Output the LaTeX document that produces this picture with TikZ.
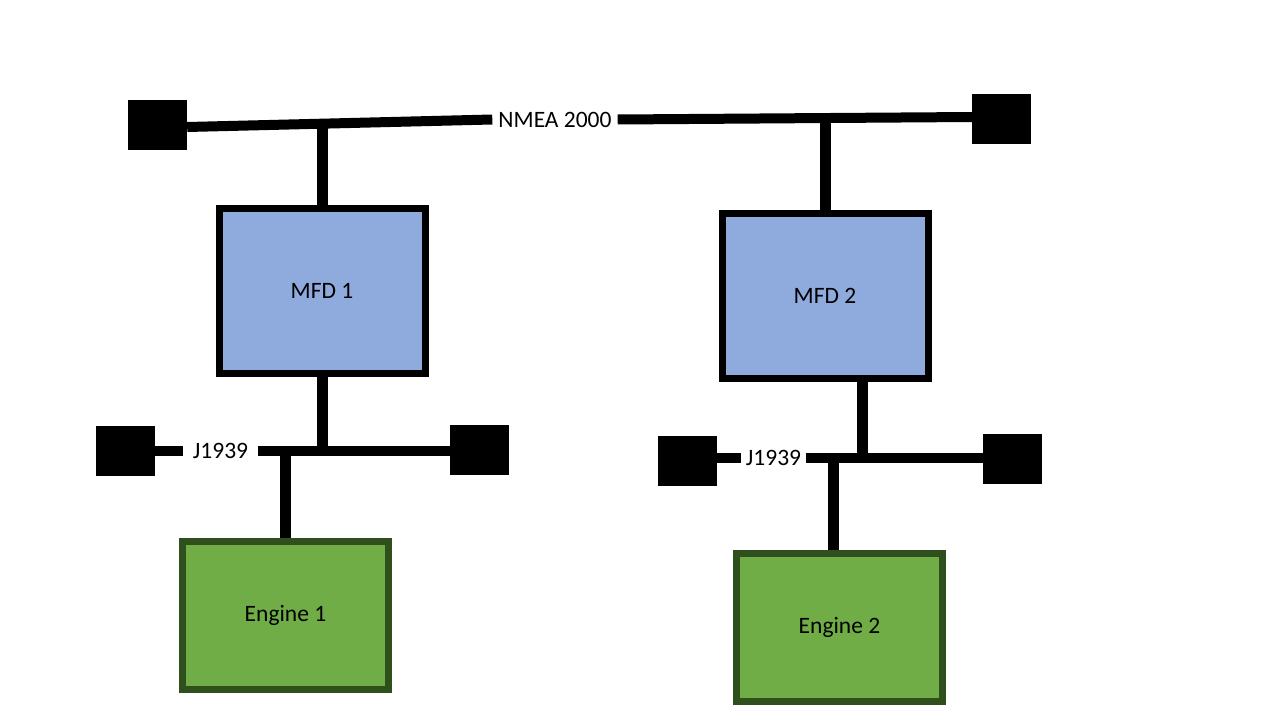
\documentclass[tikz,border=0pt]{standalone}
\usepackage{fontspec}
\setmainfont{Carlito}
\definecolor{mfdblue}{HTML}{8FAADC}
\definecolor{enggreen}{HTML}{70AD47}
\definecolor{engdark}{HTML}{2F4F1C}

\begin{document}
\begin{tikzpicture}
  [x=1pt,y=-1pt,
   every node/.style={font=\fontsize{23.5}{28}\selectfont},
   term/.style={fill=black,inner sep=0,minimum width=59pt,minimum height=50pt},
   mfd/.style={draw=black,line width=7pt,fill=mfdblue,minimum width=206pt,minimum height=165pt},
   eng/.style={draw=engdark,line width=7pt,fill=enggreen,minimum width=206pt,minimum height=148pt},
   bus/.style={line width=10pt},
   drop/.style={line width=11pt}]
  \useasboundingbox (0,0) rectangle (1280,720);

  % terminators
  \node[term] (tl)  at (157.5,125) {};
  \node[term] (tr)  at (1001.5,119) {};
  \node[term] (jl1) at (125.5,451) {};
  \node[term] (jr1) at (479.5,450) {};
  \node[term] (jl2) at (687.5,460.5) {};
  \node[term] (jr2) at (1012.5,458.5) {};

  % bus labels
  \node[inner xsep=6pt] (nmea) at (555,119.5) {NMEA 2000};
  \node[inner xsep=10pt] (jone) at (220.5,451) {J1939};
  \node[inner xsep=5pt] (jtwo) at (773.5,458) {J1939};

  % devices
  \node[mfd] (mfdone) at (322,291)   {MFD 1};
  \node[mfd] (mfdtwo) at (825,295.5) {MFD 2};
  \node[eng] (engone) at (285.5,615) {Engine 1};
  \node[eng] (engtwo) at (839.5,627) {Engine 2};

  \draw[bus] ([yshift=-2pt]tl.east) -- (nmea.west);
  \draw[bus] (nmea.east) -- ([yshift=2pt]tr.west);
  \foreach \from/\to in {jl1.east/jone.west,jr1.west/jone.east,
                         jl2.east/jtwo.west,jr2.west/jtwo.east}
    \draw[bus] (\from |- \to) -- (\to);

  \draw[drop] (mfdone.north) -- (mfdone.north |- tl);
  \draw[drop] (mfdtwo.north) -- (mfdtwo.north |- nmea);
  \draw[drop] (mfdone.south) -- (mfdone.south |- jone);
  \draw[drop] ([xshift=37pt]mfdtwo.south) -- ([xshift=37pt]mfdtwo.south |- jtwo);
  \draw[drop] (engone.north) -- (engone.north |- jone);
  \draw[drop] ([xshift=-6pt]engtwo.north) -- ([xshift=-6pt]engtwo.north |- jtwo);

\end{tikzpicture}
\end{document}
